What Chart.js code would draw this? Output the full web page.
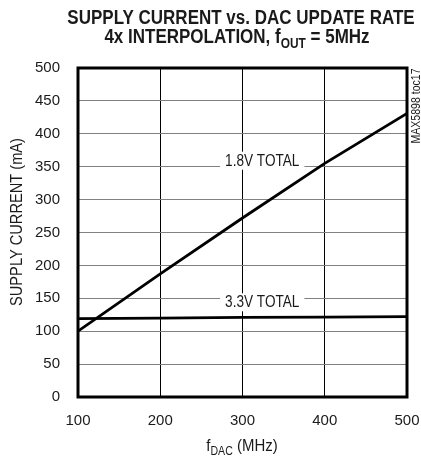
<!DOCTYPE html>
<html>
<head>
<meta charset="utf-8">
<script src="https://cdn.jsdelivr.net/npm/chart.js@4.4.1/dist/chart.umd.min.js"></script>
<style>
  html, body { margin: 0; padding: 0; background: #fff; }
  canvas { display: block; }
</style>
</head>
<body>
<canvas id="chart" width="421" height="457"></canvas>
<script>
// ── Data ───────────────────────────────────────────────────
const FDAC_MHZ      = [100, 200, 300, 400, 500];
const I_TOTAL_1V8   = [100, 187, 272, 355, 431];
const I_TOTAL_3V3   = [119, 120, 121, 121.5, 122];
const SERIES_LABELS = ['1.8V TOTAL', '3.3V TOTAL'];
const X_TICKS       = [100, 200, 300, 400, 500];
const Y_TICKS       = [0, 50, 100, 150, 200, 250, 300, 350, 400, 450, 500];

const SANS = '"Liberation Sans", Arial, sans-serif';
const INK = '#1a1a1a';

// text pieces: [string, isSubscript]; drawn horizontally squeezed (narrow look), centred on cx
function narrowText(ctx, cx, cy, parts, size, weight, squeeze) {
  const fontFor = sub => `${weight} ${sub ? Math.round(size * 0.72) : size}px ${SANS}`;
  let total = 0;
  const widths = parts.map(([t, sub]) => { ctx.font = fontFor(sub); const w = ctx.measureText(t).width; total += w; return w; });
  ctx.save();
  ctx.translate(cx, cy); ctx.scale(squeeze, 1);
  ctx.textAlign = 'left'; ctx.textBaseline = 'alphabetic';
  let x = -total / 2;
  parts.forEach(([t, sub], i) => {
    ctx.font = fontFor(sub);
    ctx.fillText(t, x, sub ? size * 0.25 : 0);
    x += widths[i];
  });
  ctx.restore();
  return total * squeeze;
}

const overlay = {
  id: 'overlay',
  beforeDatasetsDraw(chart) {
    // curve labels sit in white boxes that break the grid lines
    const { ctx, scales: { x, y } } = chart;
    [[SERIES_LABELS[0], 324, 350, -1], [SERIES_LABELS[1], 324, 150, 9]].forEach(([t, mx, ma, dy]) => {
      const px = x.getPixelForValue(mx), py = y.getPixelForValue(ma) + dy;
      ctx.save();
      ctx.font = `16px ${SANS}`;
      const w = ctx.measureText(t).width * 0.85 + 10;
      ctx.fillStyle = '#fff'; ctx.fillRect(px - w / 2, py - 14, w, 18);
      ctx.fillStyle = INK;
      narrowText(ctx, px, py, [[t, false]], 16, 'normal', 0.85);
      ctx.restore();
    });
  },
  afterDraw(chart) {
    const { ctx, chartArea: a } = chart;
    ctx.save();
    // heavy frame
    ctx.strokeStyle = '#000'; ctx.lineWidth = 3;
    ctx.strokeRect(a.left, a.top, a.right - a.left, a.bottom - a.top);

    ctx.fillStyle = INK;
    // title
    narrowText(ctx, 241, 24, [['SUPPLY CURRENT vs. DAC UPDATE RATE', false]], 20, 'bold', 0.85);
    narrowText(ctx, 237, 43, [['4x INTERPOLATION, f', false], ['OUT', true], [' = 5MHz', false]], 20, 'bold', 0.85);

    // x axis title
    narrowText(ctx, 242, 451, [['f', false], ['DAC', true], [' (MHz)', false]], 17, 'normal', 0.88);

    // y axis title
    ctx.save();
    ctx.translate(22, 222); ctx.rotate(-Math.PI / 2);
    narrowText(ctx, 0, 0, [['SUPPLY CURRENT (mA)', false]], 17, 'normal', 0.86);
    ctx.restore();

    // figure tag
    ctx.save();
    ctx.translate(420, 106); ctx.rotate(-Math.PI / 2);
    narrowText(ctx, 0, 0, [['MAX5898 toc17', false]], 12, 'normal', 0.88);
    ctx.restore();
    ctx.restore();
  },
};

new Chart(document.getElementById('chart'), {
  type: 'line',
  data: {
    datasets: [
      { label: SERIES_LABELS[0], data: FDAC_MHZ.map((f, i) => ({ x: f, y: I_TOTAL_1V8[i] })) },
      { label: SERIES_LABELS[1], data: FDAC_MHZ.map((f, i) => ({ x: f, y: I_TOTAL_3V3[i] })) },
    ].map(d => ({ ...d, borderColor: '#000', borderWidth: 2.8, pointRadius: 0, fill: false, tension: 0 })),
  },
  options: {
    responsive: false, animation: false,
    layout: { padding: { top: 68, right: 14, left: 0, bottom: 0 } },
    plugins: { legend: { display: false }, tooltip: { enabled: false } },
    scales: {
      x: {
        type: 'linear', min: 100, max: 500,
        afterBuildTicks: s => { s.ticks = X_TICKS.map(v => ({ value: v })); },
        afterFit: s => { s.height = 60; s.paddingLeft = 0; s.paddingRight = 0; },
        grid: { color: '#000', lineWidth: 1, drawTicks: false },
        border: { display: false },
        ticks: { color: INK, font: { family: SANS, size: 15 }, padding: 15, maxRotation: 0 },
      },
      y: {
        min: 0, max: 500,
        afterBuildTicks: s => { s.ticks = Y_TICKS.map(v => ({ value: v })); },
        afterFit: s => { s.width = 78; s.paddingTop = 0; s.paddingBottom = 0; },
        grid: { color: '#808080', lineWidth: 1, drawTicks: false },
        border: { display: false },
        ticks: { color: INK, font: { family: SANS, size: 15 }, padding: 18 },
      },
    },
  },
  plugins: [overlay],
});
</script>
</body>
</html>
